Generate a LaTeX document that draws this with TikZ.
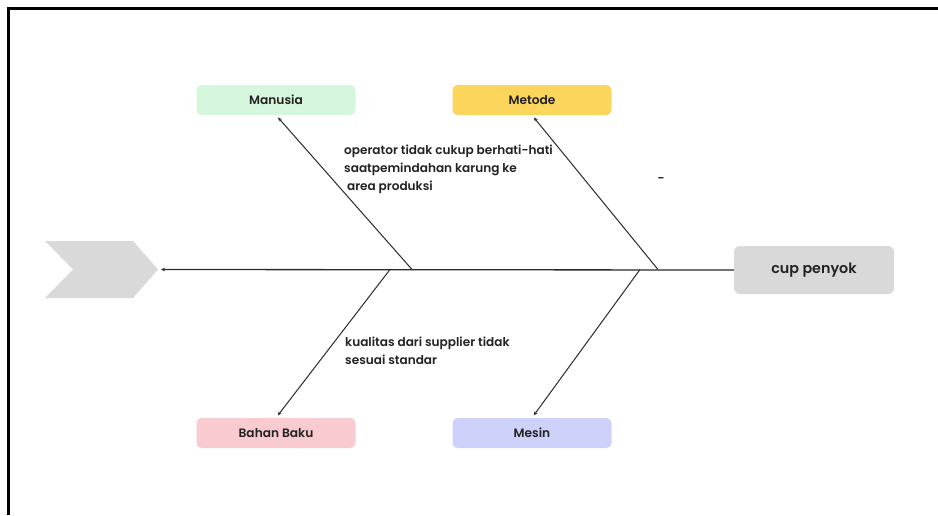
\documentclass[tikz,border=0pt]{standalone}
\usepackage{fontspec}
\setmainfont{Poppins}
\newfontfamily\medfont{Poppins SemiBold}
\usetikzlibrary{arrows.meta}
\definecolor{ink}{HTML}{222222}
\definecolor{boneline}{HTML}{2A2A2A}
\definecolor{headgray}{HTML}{D9D9D9}
\definecolor{mintfill}{HTML}{D7F6DE}
\definecolor{yellowfill}{HTML}{FCD55C}
\definecolor{pinkfill}{HTML}{F9CACF}
\definecolor{lavfill}{HTML}{CED1FA}
\tikzset{
  catbox/.style={rounded corners=5pt, minimum width=159pt, minimum height=30pt,
    inner sep=0pt, font=\medfont\fontsize{12.2}{13}\selectfont, text=ink},
  effectbox/.style={rounded corners=6pt, fill=headgray, minimum width=160pt,
    minimum height=48pt, inner sep=0pt, font=\medfont\fontsize{14.3}{15}\selectfont, text=ink},
  bone/.style={draw=boneline, line width=1pt, -{Stealth[length=4pt,width=3.5pt]}, shorten >=3pt},
  cause/.style={font=\medfont\fontsize{12.1}{18}\selectfont, text=ink, align=left,
    anchor=north west, inner sep=0pt},
  frameline/.style={line width=3pt, black}
}
\begin{document}
\begin{tikzpicture}[x=1pt, y=-1pt]
  \useasboundingbox (0,0) rectangle (938,515);
  % outer frame (top and left edges)
  \draw[frameline] (6.5,8) -- (938,8);
  \draw[frameline] (8,6.5) -- (8,515);

  % fish tail chevron
  \fill[headgray] (45,241) -- (133,241) -- (158,269.5) -- (133,298) -- (45,298) -- (73,269.5) -- cycle;
  \coordinate (tail) at (158,269.5);

  % effect box
  \node[effectbox] (effect) at (814,270) {cup penyok};

  % category boxes
  \node[catbox, fill=mintfill]   (manusia) at (276,100) {Manusia};
  \node[catbox, fill=yellowfill] (metode)  at (532,100) {Metode};
  \node[catbox, fill=pinkfill]   (bahan)   at (276,433) {Bahan Baku};
  \node[catbox, fill=lavfill]    (mesin)   at (532,433) {Mesin};

  % spine
  \draw[draw=boneline, line width=1.3pt, -{Stealth[length=4pt,width=3.5pt]}, shorten >=3pt]
    (effect.west) -- (tail);

  % junctions on the spine
  \coordinate (jman) at (412,269.5);
  \coordinate (jmet) at (658,269.5);
  \coordinate (jbah) at (390,269.5);
  \coordinate (jmes) at (640,269.5);

  % bones
  \draw[bone] (jman) -- (manusia.south);
  \draw[bone] (jmet) -- (metode.south);
  \draw[bone] (jbah) -- (bahan.north);
  \draw[bone] (jmes) -- (mesin.north);

  % causes
  \node[cause] (c1) at (344,145) {operator tidak cukup berhati-hati\\saatpemindahan karung ke\\\ area produksi};
  \node[cause] (c2) at (345,337) {kualitas dari supplier tidak\\sesuai standar};
  \node[font=\medfont\fontsize{12}{12}\selectfont, text=ink] (dash) at (661,180) {-};
\end{tikzpicture}
\end{document}
